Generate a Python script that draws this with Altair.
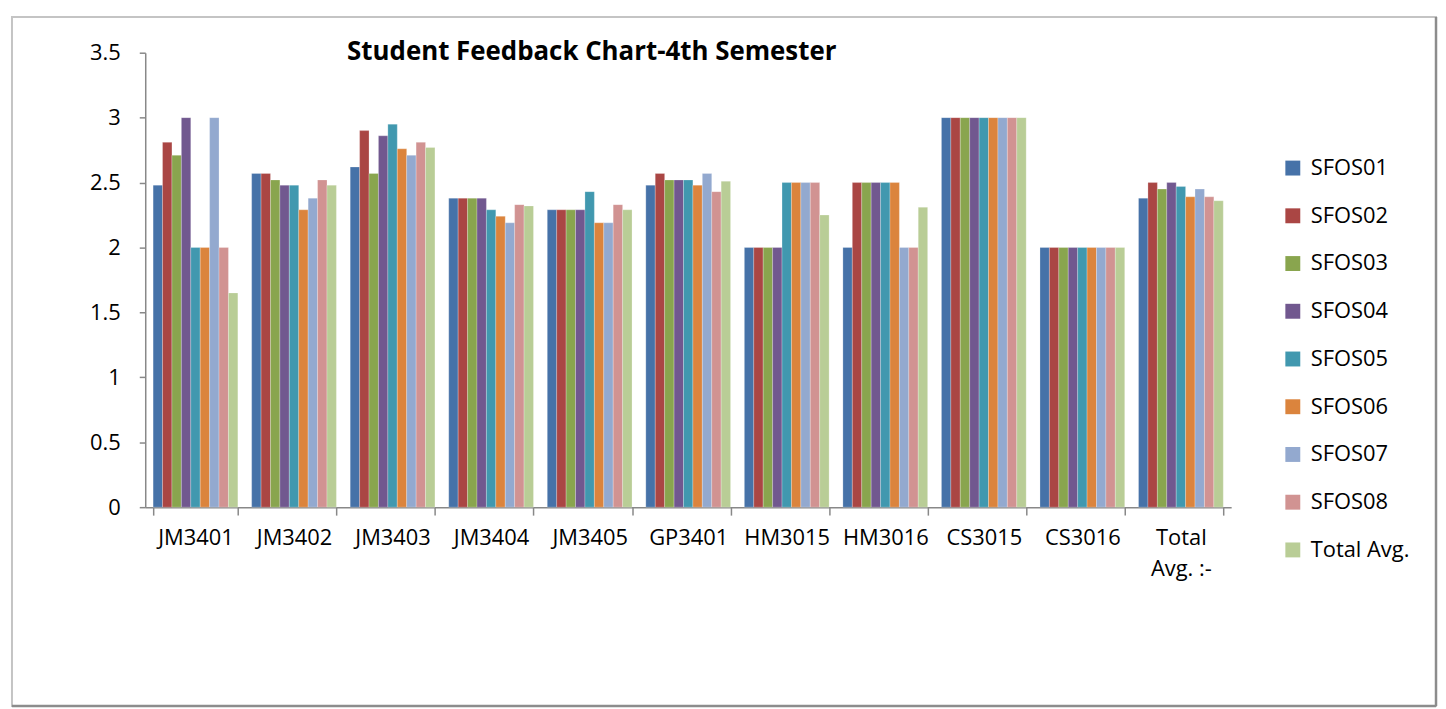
import altair as alt
import pandas as pd

categories = ["JM3401", "JM3402", "JM3403", "JM3404", "JM3405", "GP3401",
              "HM3015", "HM3016", "CS3015", "CS3016", "Total Avg. :-"]
series_names = ["SFOS01", "SFOS02", "SFOS03", "SFOS04", "SFOS05",
                "SFOS06", "SFOS07", "SFOS08", "Total Avg."]

SFOS01 = [2.48, 2.57, 2.62, 2.38, 2.29, 2.48, 2.0, 2.0, 3.0, 2.0, 2.38]
SFOS02 = [2.81, 2.57, 2.90, 2.38, 2.29, 2.57, 2.0, 2.5, 3.0, 2.0, 2.50]
SFOS03 = [2.71, 2.52, 2.57, 2.38, 2.29, 2.52, 2.0, 2.5, 3.0, 2.0, 2.45]
SFOS04 = [3.00, 2.48, 2.86, 2.38, 2.29, 2.52, 2.0, 2.5, 3.0, 2.0, 2.50]
SFOS05 = [2.00, 2.48, 2.95, 2.29, 2.43, 2.52, 2.5, 2.5, 3.0, 2.0, 2.47]
SFOS06 = [2.00, 2.29, 2.76, 2.24, 2.19, 2.48, 2.5, 2.5, 3.0, 2.0, 2.39]
SFOS07 = [3.00, 2.38, 2.71, 2.19, 2.19, 2.57, 2.5, 2.0, 3.0, 2.0, 2.45]
SFOS08 = [2.00, 2.52, 2.81, 2.33, 2.33, 2.43, 2.5, 2.0, 3.0, 2.0, 2.39]
TOTAL_AVG = [1.65, 2.48, 2.77, 2.32, 2.29, 2.51, 2.25, 2.31, 3.0, 2.0, 2.36]

colors = ["#4672A8", "#AA4644", "#89A54E", "#71588F", "#4198AF",
          "#DB843D", "#93A9CF", "#D19392", "#B9CD96"]

title_text = "Student Feedback Chart-4th Semester"
FONT = "Open Sans"

all_series = [SFOS01, SFOS02, SFOS03, SFOS04, SFOS05, SFOS06, SFOS07, SFOS08, TOTAL_AVG]
rows = []
for name, vals in zip(series_names, all_series):
    for cat, v in zip(categories, vals):
        rows.append({"category": cat, "series": name, "value": v})
df = pd.DataFrame(rows)

bars = alt.Chart(df).mark_bar(stroke="white", strokeWidth=0.4, strokeOpacity=0.6).encode(
    x=alt.X("category:N", sort=categories, title=None,
            scale=alt.Scale(paddingInner=0.14, paddingOuter=0.08),
            axis=alt.Axis(labelAngle=0, labelFontSize=22, labelFont=FONT, labelColor="#000",
                          tickBand="extent", tickSize=8, labelPadding=13,
                          labelLineHeight=31, labelBaseline="top",
                          labelExpr="datum.label == 'Total Avg. :-' ? ['Total', 'Avg. :-'] : datum.label",
                          domainColor="#888", tickColor="#888", domainWidth=1.5,
                          tickWidth=1.5, grid=False)),
    xOffset=alt.XOffset("series:N", sort=series_names,
                        scale=alt.Scale(paddingInner=0, paddingOuter=0)),
    y=alt.Y("value:Q", title=None,
            scale=alt.Scale(domain=[0, 3.5], nice=False),
            axis=alt.Axis(values=[0, 0.5, 1, 1.5, 2, 2.5, 3, 3.5], format=".1~f",
                          labelFontSize=22, labelFont=FONT, labelColor="#000",
                          tickSize=6, labelPadding=19, domainColor="#888",
                          tickColor="#888", domainWidth=1.5, tickWidth=1.5, grid=False)),
    color=alt.Color("series:N", sort=series_names,
                    scale=alt.Scale(domain=series_names, range=colors),
                    legend=alt.Legend(title=None, orient="none", legendX=1143, legendY=105,
                                      symbolType="square", symbolSize=225,
                                      symbolStrokeWidth=0, labelFontSize=22,
                                      labelFont=FONT, labelColor="#000",
                                      rowPadding=26, labelOffset=7)),
)

title = alt.Chart(pd.DataFrame({"t": [title_text]})).mark_text(
    font=FONT, fontSize=26, fontWeight="bold", color="#000",
    align="center", baseline="alphabetic"
).encode(text="t:N", x=alt.value(449), y=alt.value(7))

frame = alt.Chart(pd.DataFrame({"f": [0]})).mark_rect(
    fill=None, stroke="#c4c4c4", strokeWidth=2
).encode(x=alt.value(-134), x2=alt.value(1298), y=alt.value(-36), y2=alt.value(657))

frame_right = alt.Chart(pd.DataFrame({"f": [0]})).mark_rule(
    color="#8c8c8c", strokeWidth=2.5
).encode(x=alt.value(1298), y=alt.value(-36), y2=alt.value(657))

frame_bottom = alt.Chart(pd.DataFrame({"f": [0]})).mark_rule(
    color="#8c8c8c", strokeWidth=2.5
).encode(x=alt.value(-134), x2=alt.value(1298), y=alt.value(657))

chart = alt.layer(frame, frame_right, frame_bottom, bars, title).properties(
    width=1092, height=457,
    padding={"left": 2, "top": 5, "right": 0, "bottom": 0},
    background="white",
).configure_view(stroke=None)

chart.save("out.html", embed_options={"renderer": "svg", "actions": False})
